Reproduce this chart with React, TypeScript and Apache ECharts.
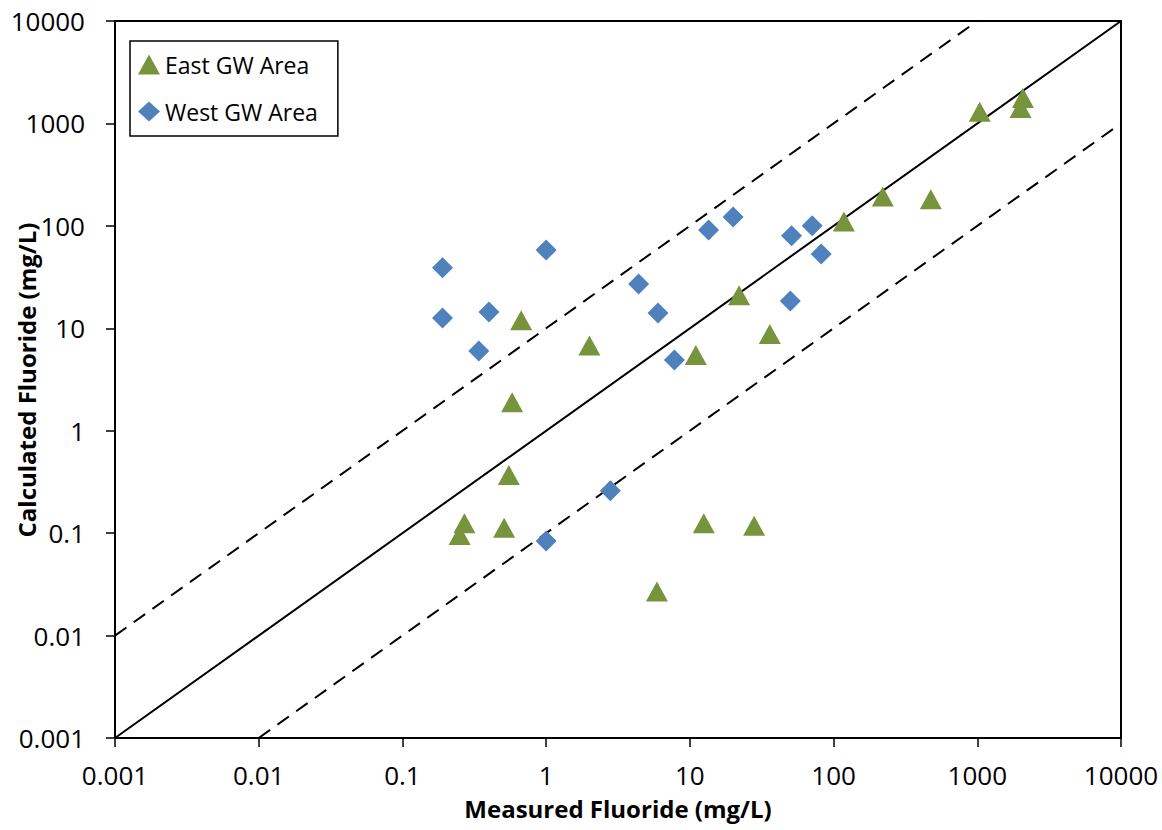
import React, { useEffect, useRef } from "react";
import * as echarts from "echarts";

const eastMeasured = [0.67, 2.0, 0.58, 22, 36, 11, 118, 0.55, 0.27, 0.25, 0.51, 12.5, 28, 5.9, 1040, 2080, 2000, 220, 475];
const eastCalculated = [12, 6.8, 1.9, 21, 8.8, 5.5, 110, 0.37, 0.125, 0.096, 0.113, 0.125, 0.118, 0.027, 1300, 1770, 1415, 193, 182];

const westMeasured = [0.19, 0.19, 0.4, 0.34, 1.0, 4.4, 6.0, 7.8, 13.5, 20, 51, 71, 82, 50, 2.8, 1.0];
const westCalculated = [39, 12.6, 14.4, 6.0, 58, 27, 14.1, 4.9, 91, 122, 80, 100, 53, 18.5, 0.26, 0.084];

const oneToOne = [[0.001, 0.001], [10000, 10000]];
const upperLine = [[0.001, 0.01], [1000, 10000]];
const lowerLine = [[0.01, 0.001], [10000, 1000]];

const axisMin = 0.001;
const axisMax = 10000;

const xTitle = "Measured Fluoride (mg/L)";
const yTitle = "Calculated Fluoride (mg/L)";

const FONT = "'Open Sans', 'Liberation Sans', sans-serif";

function fmt(v: number): string {
  return String(Number(v.toPrecision(1)));
}

export default function App() {
  const ref = useRef<HTMLDivElement>(null);
  useEffect(() => {
    if (!ref.current) return;
    const chart = echarts.init(ref.current, undefined, { renderer: "svg" });
    const axisCommon = {
      type: "log" as const,
      logBase: 10,
      min: axisMin,
      max: axisMax,
      axisLine: { show: true, lineStyle: { color: "#000", width: 2 } },
      axisTick: { show: true, inside: false, length: 9, lineStyle: { color: "#000", width: 1.5 } },
      splitLine: { show: false },
      minorTick: { show: false },
      nameLocation: "middle" as const,
      nameTextStyle: { fontFamily: FONT, fontSize: 24, fontWeight: "bold" as const, color: "#000" },
    };
    chart.setOption({
      animation: false,
      backgroundColor: "#fff",
      grid: {
        left: 115,
        right: 41,
        top: 21,
        bottom: 92,
        containLabel: false,
        outerBoundsMode: "none",
        show: true,
        borderColor: "#000",
        borderWidth: 2,
      },
      xAxis: {
        ...axisCommon,
        name: xTitle,
        nameGap: 58,
        axisLabel: { margin: 24, fontFamily: FONT, fontSize: 26, color: "#000", formatter: fmt },
      },
      yAxis: {
        ...axisCommon,
        axisLabel: { margin: 30, fontFamily: FONT, fontSize: 26, color: "#000", formatter: fmt },
      },
      graphic: [
        {
          type: "text",
          x: 26,
          y: 380,
          rotation: Math.PI / 2,
          style: {
            text: yTitle,
            fontFamily: FONT,
            fontSize: 24,
            fontWeight: "bold",
            fill: "#000",
            align: "center",
            verticalAlign: "middle",
          },
        },
      ],
      legend: {
        show: true,
        orient: "vertical",
        left: 130,
        top: 41,
        borderColor: "#000",
        borderWidth: 1.5,
        padding: [12, 20, 13, 8],
        itemGap: 24,
        itemWidth: 22,
        itemHeight: 20,
        textStyle: { fontFamily: FONT, fontSize: 23, color: "#000" },
        data: [
          { name: "East GW Area", icon: "triangle" },
          { name: "West GW Area", icon: "diamond" },
        ],
      },
      series: [
        {
          name: "1:1",
          type: "line",
          data: oneToOne,
          showSymbol: false,
          silent: true,
          lineStyle: { color: "#000", width: 2 },
          z: 1,
        },
        {
          name: "x10",
          type: "line",
          data: upperLine,
          showSymbol: false,
          silent: true,
          lineStyle: { color: "#000", width: 2, type: [14, 9] },
          z: 1,
        },
        {
          name: "x0.1",
          type: "line",
          data: lowerLine,
          showSymbol: false,
          silent: true,
          lineStyle: { color: "#000", width: 2, type: [14, 9] },
          z: 1,
        },
        {
          name: "East GW Area",
          type: "scatter",
          symbol: "triangle",
          symbolSize: [22, 20],
          itemStyle: { color: "#77933C", opacity: 1 },
          data: eastMeasured.map((x, i) => [x, eastCalculated[i]]),
          z: 3,
        },
        {
          name: "West GW Area",
          type: "scatter",
          symbol: "diamond",
          symbolSize: [21, 21],
          itemStyle: { color: "#4F81BD", opacity: 1 },
          data: westMeasured.map((x, i) => [x, westCalculated[i]]),
          z: 3,
        },
      ],
    });
    return () => chart.dispose();
  }, []);
  return <div ref={ref} style={{ width: 1162, height: 830, position: "absolute", left: 0, top: 0 }} />;
}
